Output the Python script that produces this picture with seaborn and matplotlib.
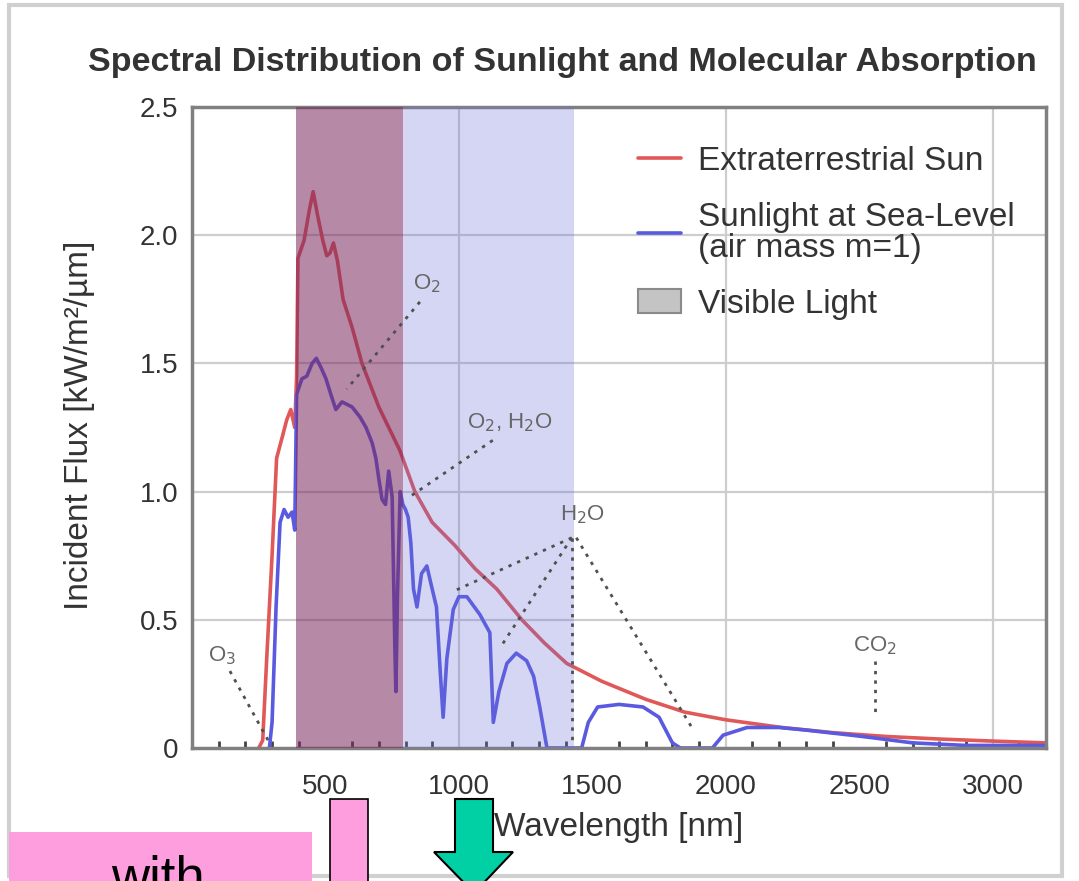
import numpy as np
import pandas as pd
import matplotlib
matplotlib.use("Agg")
import matplotlib.pyplot as plt
import seaborn as sns
from matplotlib.patches import Rectangle, Polygon, Patch
from matplotlib.lines import Line2D

# ---------------- data ----------------
sun_wl = [250, 265, 280, 300, 317, 340, 355, 370, 385, 392, 397, 420, 440, 454, 470,
          490, 505, 517, 530, 545, 566, 600, 637, 700, 779, 835, 900, 985, 1060,
          1142, 1236, 1320, 1404, 1536, 1700, 1846, 2000, 2210, 2400, 2600, 2800,
          3000, 3200]
sun_flux = [0.0, 0.03, 0.35, 0.75, 1.13, 1.22, 1.28, 1.32, 1.25, 1.45, 1.91, 1.98,
            2.10, 2.17, 2.08, 1.98, 1.92, 1.93, 1.97, 1.90, 1.75, 1.64, 1.50, 1.33,
            1.16, 1.00, 0.88, 0.79, 0.70, 0.62, 0.50, 0.41, 0.33, 0.26, 0.19, 0.14,
            0.11, 0.08, 0.06, 0.045, 0.035, 0.027, 0.02]

sea_wl = [290, 300, 315, 330, 345, 360, 375, 385, 392, 412, 430, 450, 466, 485, 502,
          520, 539, 562, 600, 630, 652, 675, 689, 700, 712, 725, 737, 750, 760, 764,
          770, 780, 790, 800, 810, 820, 830, 843, 860, 880, 900, 916, 930, 941, 955,
          979, 1000, 1030, 1079, 1100, 1116, 1129, 1150, 1180, 1215, 1254, 1280,
          1303, 1330, 1460, 1485, 1520, 1600, 1690, 1750, 1800, 1830, 1950, 1990,
          2080, 2200, 2300, 2470, 2550, 2700, 2900, 3200]
sea_flux = [0.0, 0.10, 0.55, 0.88, 0.93, 0.90, 0.92, 0.85, 1.38, 1.44, 1.45, 1.50,
            1.52, 1.48, 1.44, 1.38, 1.32, 1.35, 1.33, 1.29, 1.25, 1.19, 1.13, 1.05,
            0.97, 0.95, 1.08, 0.98, 0.40, 0.22, 0.60, 1.00, 0.95, 0.93, 0.90, 0.80,
            0.62, 0.55, 0.68, 0.71, 0.62, 0.55, 0.30, 0.12, 0.35, 0.54, 0.59, 0.59,
            0.52, 0.48, 0.45, 0.10, 0.22, 0.33, 0.37, 0.34, 0.28, 0.16, 0.0, 0.0,
            0.10, 0.16, 0.17, 0.16, 0.12, 0.02, 0.0, 0.0, 0.05, 0.08, 0.08, 0.07,
            0.05, 0.04, 0.02, 0.01, 0.01]

visible_band = (390, 790)
ir_band = (790, 1430)

x_ticks = [500, 1000, 1500, 2000, 2500, 3000]
x_tick_labels = ["500", "1000", "1500", "2000", "2500", "3000"]
y_ticks = [0, 0.5, 1.0, 1.5, 2.0, 2.5]
y_tick_labels = ["0", "0.5", "1.0", "1.5", "2.0", "2.5"]
grid_x = [1000, 2000, 3000]
grid_y = [0.5, 1.0, 1.5, 2.0]

annot_labels = ["O$_3$", "O$_2$", "O$_2$, H$_2$O", "H$_2$O", "CO$_2$"]
annot_pos = [(112, 0.36), (880, 1.81), (1191, 1.27), (1464, 0.91), (2558, 0.40)]
annot_lines = [((142, 0.30), (285, 0.03)),
               ((854, 1.74), (580, 1.40)),
               ((1127, 1.20), (816, 0.98)),
               ((1423, 0.82), (977, 0.61)),
               ((1423, 0.82), (1154, 0.39)),
               ((1423, 0.82), (1423, 0.01)),
               ((1440, 0.82), (1873, 0.08)),
               ((2558, 0.34), (2558, 0.12))]

title = "Spectral Distribution of Sunlight and Molecular Absorption"
legend_labels = ["Extraterrestrial Sun", "Sunlight at Sea-Level\n(air mass m=1)", "Visible Light"]

# ---------------- figure ----------------
sns.set_style("white")
plt.rcParams["font.family"] = ["Liberation Sans", "DejaVu Sans"]

W, H = 1079, 881
fig = plt.figure(figsize=(W / 100, H / 100), dpi=100)

def fx(px):
    return px / W

def fy(py):
    return 1 - py / H

ax = fig.add_axes([fx(192), fy(748), fx(1046) - fx(192), fy(107) - fy(748)])

sun_df = pd.DataFrame({"wl": sun_wl, "flux": sun_flux})
sea_df = pd.DataFrame({"wl": sea_wl, "flux": sea_flux})

red = "#e05858"
blue = "#5a5ae0"
sns.lineplot(data=sun_df, x="wl", y="flux", ax=ax, color=red, lw=2.6,
             estimator=None, zorder=2, legend=False)
sns.lineplot(data=sea_df, x="wl", y="flux", ax=ax, color=blue, lw=2.6,
             estimator=None, zorder=2, legend=False)

for gx in grid_x:
    ax.axvline(gx, color="#cdcdcd", lw=1.6, zorder=0.5)
for gy in grid_y:
    ax.axhline(gy, color="#cdcdcd", lw=1.6, zorder=0.5)

ax.axvspan(*visible_band, color="#7a2a5e", alpha=0.55, lw=0, zorder=3)
ax.axvspan(*ir_band, color="#6b6fd6", alpha=0.28, lw=0, zorder=3)

for (x0, y0), (x1, y1) in annot_lines:
    ax.plot([x0, x1], [y0, y1], ls=(0, (1.2, 2.2)), color="#505050", lw=2.0, zorder=4)
for lab, (lx, ly) in zip(annot_labels, annot_pos):
    ax.text(lx, ly, lab, ha="center", va="center", fontsize=16, color="#666666", zorder=5)

ax.set_xlim(0, 3200)
ax.set_ylim(0, 2.5)
ax.set_xticks(x_ticks)
ax.set_xticklabels(x_tick_labels)
ax.set_xticks(np.arange(100, 3200, 100), minor=True)
ax.set_yticks(y_ticks)
ax.set_yticklabels(y_tick_labels)
ax.tick_params(axis="both", which="major", direction="in", length=5, width=1.5,
               color="#555555", labelsize=20, labelcolor="#333333")
ax.tick_params(axis="x", which="major", pad=19)
ax.tick_params(axis="y", which="major", pad=10)
ax.tick_params(axis="x", which="minor", direction="in", length=5, width=2,
               color="#444444", bottom=True)

for sp in ax.spines.values():
    sp.set_color("#808080")
    sp.set_linewidth(2.5)

ax.set_xlabel("Wavelength [nm]", fontsize=24, color="#333333")
ax.xaxis.set_label_coords(0.5, -(812 - 748) / 641)
ax.set_ylabel("Incident Flux [kW/m²/µm]", fontsize=24, color="#333333")
ax.yaxis.set_label_coords((95 - 192) / 854, (748 - 425) / 641)

fig.text(fx(562), fy(62), title, ha="center", va="center", fontsize=24.5,
         fontweight="bold", color="#333333")

handles = [Line2D([], [], color=red, lw=2.6),
           Line2D([], [], color=blue, lw=2.6),
           Patch(facecolor="#c4c4c4", edgecolor="#8a8a8a", lw=1.5)]
leg = ax.legend(handles, legend_labels, loc="upper left",
                bbox_to_anchor=(fx(621), fy(129)), bbox_transform=fig.transFigure,
                frameon=False, borderpad=0, handlelength=1.3, handletextpad=0.5,
                labelspacing=0.75, fontsize=24)
for t in leg.get_texts():
    t.set_color("#333333")
    t.set_linespacing(1.0)

# ---------------- screenshot frame and overlay shapes ----------------
fig.add_artist(Rectangle((fx(9), fy(876)), fx(1062) - fx(9), fy(5) - fy(876),
                         transform=fig.transFigure, facecolor="none",
                         edgecolor="#d0d0d0", lw=3, zorder=0.2))
fig.add_artist(Rectangle((fx(9), fy(900)), fx(312) - fx(9), fy(832) - fy(900),
                         transform=fig.transFigure, facecolor="#ff9edf",
                         edgecolor="none", zorder=10))
fig.text(fx(158), fy(893), "with", ha="center", va="baseline", fontsize=38,
         color="black", zorder=11)
fig.add_artist(Rectangle((fx(330), fy(900)), fx(368) - fx(330), fy(799) - fy(900),
                         transform=fig.transFigure, facecolor="#ff9edf",
                         edgecolor="black", lw=1.2, zorder=10))
arrow_px = [(455, 799), (493, 799), (493, 852), (513, 852), (474, 893),
            (434, 852), (455, 852)]
fig.add_artist(Polygon([(fx(a), fy(b)) for a, b in arrow_px], closed=True,
                       transform=fig.transFigure, facecolor="#00d0a4",
                       edgecolor="black", lw=1.5, zorder=10))

fig.savefig("out.png", dpi=100)
